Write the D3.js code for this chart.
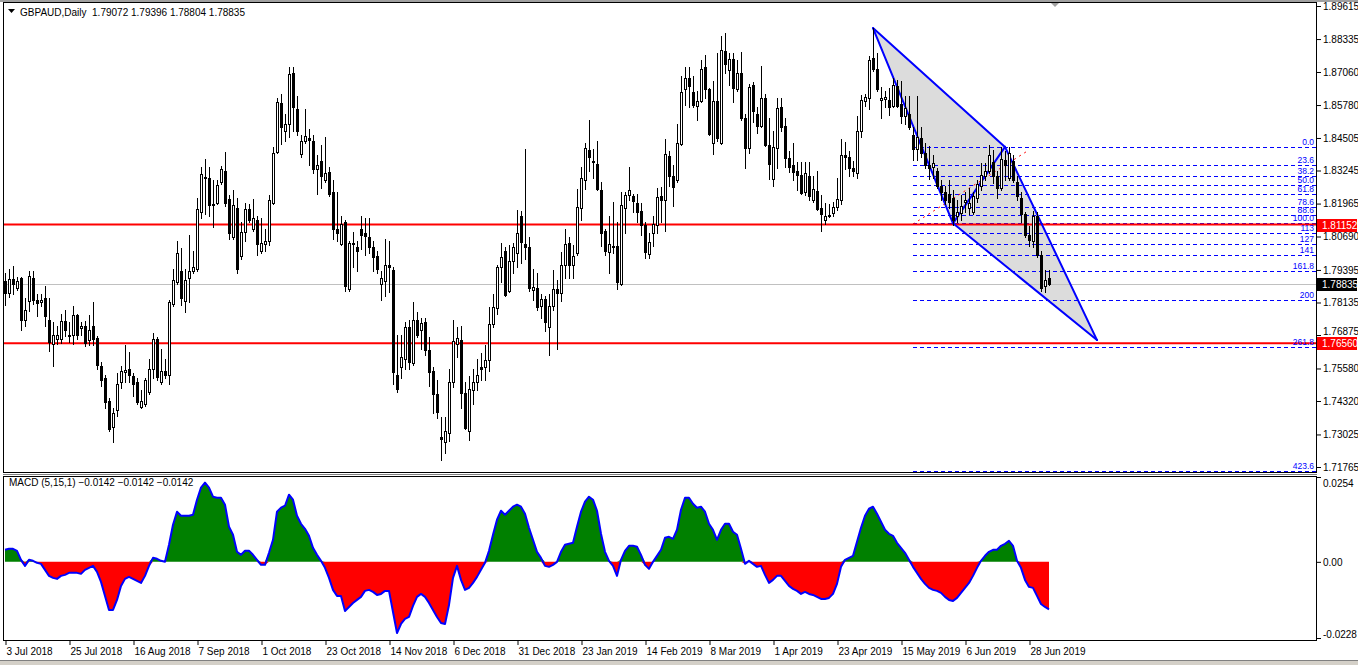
<!DOCTYPE html>
<html>
<head>
<meta charset="utf-8">
<script src="https://cdn.jsdelivr.net/npm/d3@7/dist/d3.min.js"></script>
<style>
html,body{margin:0;padding:0;background:#fff;}
svg{display:block;}
text{font-family:"Liberation Sans",Arial,sans-serif;font-size:10px;}
</style>
</head>
<body>
<svg id="chart" width="1358" height="665"></svg>
<script>
// ---------------- DATA ----------------
const symbolTitle = "GBPAUD,Daily";
const openP = [1.7897,1.7850,1.7904,1.7870,1.7908,1.7746,1.7819,1.7908,1.7823,1.7815,
1.7831,1.7746,1.7653,1.7672,1.7672,1.7742,1.7688,1.7688,1.7765,1.7715,
1.7722,1.7668,1.7722,1.7676,1.7568,1.7521,1.7432,1.7331,1.7397,1.7506,
1.7544,1.7556,1.7529,1.7506,1.7409,1.7420,1.7467,1.7556,1.7672,1.7506,
1.7548,1.7533,1.7808,1.7893,1.7935,1.7819,1.7908,1.7935,1.7943,1.8164,
1.8299,1.8295,1.8191,1.8199,1.8280,1.8323,1.8214,1.8067,1.8179,1.7993,
1.8086,1.8176,1.8098,1.8133,1.8013,1.8040,1.8052,1.8199,1.8396,1.8586,
1.8477,1.8505,1.8702,1.8563,1.8388,1.8439,1.8450,1.8439,1.8330,1.8361,
1.8288,1.8319,1.8241,1.8098,1.8040,1.8125,1.7866,1.8044,1.8028,1.8098,
1.8083,1.8067,1.8028,1.7993,1.7885,1.7897,1.7959,1.7939,1.7533,1.7564,
1.7595,1.7719,1.7579,1.7746,1.7707,1.7738,1.7630,1.7548,1.7459,1.7293,
1.7273,1.7308,1.7506,1.7653,1.7668,1.7463,1.7316,1.7475,1.7506,1.7564,
1.7564,1.7591,1.7730,1.7792,1.7951,1.8013,1.7858,1.7974,1.8005,1.8148,
1.8040,1.8028,1.7862,1.7870,1.7800,1.7827,1.7719,1.7800,1.7866,1.7850,
1.7959,1.8044,1.7959,1.8005,1.8179,1.8288,1.8404,1.8361,1.8350,1.8249,
1.8090,1.8009,1.8028,1.8032,1.7885,1.8179,1.8230,1.8226,1.8199,1.8168,
1.8113,1.8001,1.8083,1.8113,1.8226,1.8210,1.8381,1.8303,1.8288,1.8427,
1.8640,1.8683,1.8629,1.8574,1.8594,1.8725,1.8640,1.8431,1.8594,1.8431,
1.8787,1.8714,1.8756,1.8640,1.8702,1.8528,1.8412,1.8656,1.8543,1.8497,
1.8605,1.8423,1.8292,1.8412,1.8570,1.8497,1.8373,1.8346,1.8323,1.8307,
1.8241,1.8303,1.8210,1.8245,1.8179,1.8133,1.8148,1.8160,1.8183,1.8210,
1.8385,1.8377,1.8334,1.8315,1.8477,1.8594,1.8605,1.8760,1.8718,1.8598,
1.8601,1.8598,1.8574,1.8652,1.8582,1.8536,1.8543,1.8462,1.8408,1.8450,
1.8392,1.8346,1.8338,1.8323,1.8265,1.8241,1.8234,1.8218,1.8148,1.8160,
1.8203,1.8179,1.8164,1.8218,1.8265,1.8303,1.8323,1.8357,1.8303,1.8257,
1.8365,1.8295,1.8361,1.8280,1.8218,1.8156,1.8075,1.8052,1.8148,1.7997,
1.7877,1.79072];
const highP = [1.7928,1.7943,1.7955,1.7912,1.7912,1.7831,1.7935,1.7935,1.7846,1.7846,
1.7877,1.7831,1.7738,1.7722,1.7769,1.7784,1.7738,1.7800,1.7769,1.7738,
1.7742,1.7765,1.7815,1.7684,1.7583,1.7533,1.7444,1.7405,1.7540,1.7568,
1.7649,1.7622,1.7540,1.7521,1.7475,1.7521,1.7595,1.7695,1.7680,1.7633,
1.7595,1.7823,1.7943,1.8052,1.8024,1.7943,1.8075,1.8013,1.8218,1.8338,
1.8369,1.8338,1.8288,1.8288,1.8342,1.8396,1.8230,1.8249,1.8218,1.8125,
1.8199,1.8195,1.8214,1.8148,1.8141,1.8098,1.8230,1.8416,1.8605,1.8621,
1.8543,1.8725,1.8725,1.8613,1.8462,1.8563,1.8485,1.8462,1.8385,1.8423,
1.8454,1.8338,1.8288,1.8241,1.8148,1.8133,1.8052,1.8086,1.8052,1.8148,
1.8141,1.8141,1.8052,1.8013,1.7935,1.8059,1.8052,1.7951,1.7688,1.7688,
1.7738,1.7746,1.7815,1.7777,1.7753,1.7753,1.7680,1.7564,1.7513,1.7370,
1.7370,1.7556,1.7746,1.7719,1.7722,1.7506,1.7529,1.7556,1.7595,1.7618,
1.7649,1.7796,1.7846,1.7959,1.8044,1.8028,1.8036,1.8044,1.8172,1.8168,
1.8408,1.8067,1.7943,1.7928,1.7846,1.7839,1.7846,1.7939,1.7901,1.8009,
1.8098,1.8067,1.8036,1.8253,1.8338,1.8431,1.8520,1.8408,1.8439,1.8280,
1.8098,1.8148,1.8203,1.8125,1.8241,1.8241,1.8338,1.8234,1.8234,1.8199,
1.8125,1.8083,1.8148,1.8257,1.8261,1.8447,1.8400,1.8346,1.8505,1.8690,
1.8725,1.8725,1.8690,1.8632,1.8752,1.8772,1.8644,1.8671,1.8780,1.8845,
1.8857,1.8780,1.8780,1.8752,1.8783,1.8543,1.8659,1.8667,1.8570,1.8729,
1.8621,1.8528,1.8477,1.8605,1.8605,1.8528,1.8400,1.8431,1.8357,1.8357,
1.8357,1.8357,1.8303,1.8323,1.8230,1.8199,1.8195,1.8203,1.8295,1.8447,
1.8435,1.8400,1.8361,1.8536,1.8617,1.8621,1.8768,1.8876,1.8780,1.8648,
1.8632,1.8644,1.8683,1.8675,1.8671,1.8613,1.8613,1.8493,1.8613,1.8493,
1.8431,1.8419,1.8385,1.8334,1.8288,1.8265,1.8288,1.8249,1.8210,1.8230,
1.8241,1.8257,1.8241,1.8288,1.8354,1.8354,1.8423,1.8404,1.8323,1.8416,
1.8400,1.8416,1.8385,1.8303,1.8241,1.8164,1.8110,1.8168,1.8164,1.8013,
1.7939,1.79396];
const lowP = [1.7804,1.7835,1.7846,1.7862,1.7707,1.7722,1.7780,1.7808,1.7761,1.7800,
1.7722,1.7626,1.7568,1.7653,1.7657,1.7684,1.7661,1.7653,1.7672,1.7688,
1.7645,1.7649,1.7649,1.7556,1.7490,1.7405,1.7316,1.7273,1.7374,1.7482,
1.7506,1.7506,1.7451,1.7420,1.7405,1.7413,1.7459,1.7521,1.7513,1.7498,
1.7521,1.7498,1.7800,1.7885,1.7804,1.7777,1.7815,1.7928,1.7935,1.8141,
1.8156,1.8148,1.8106,1.8195,1.8272,1.8187,1.8059,1.8059,1.7928,1.7982,
1.8052,1.8125,1.8090,1.7997,1.8005,1.8013,1.8036,1.8195,1.8392,1.8427,
1.8439,1.8454,1.8477,1.8462,1.8377,1.8431,1.8346,1.8315,1.8234,1.8257,
1.8280,1.8226,1.8059,1.8052,1.8036,1.7858,1.7858,1.7951,1.7935,1.8021,
1.7997,1.8005,1.7935,1.7928,1.7823,1.7839,1.7854,1.7498,1.7467,1.7521,
1.7556,1.7556,1.7571,1.7680,1.7633,1.7610,1.7490,1.7386,1.7366,1.7204,
1.7231,1.7277,1.7486,1.7602,1.7405,1.7324,1.7281,1.7420,1.7475,1.7513,
1.7513,1.7548,1.7719,1.7769,1.7893,1.7839,1.7854,1.7928,1.7951,1.7966,
1.7982,1.7858,1.7823,1.7784,1.7753,1.7703,1.7610,1.7784,1.7633,1.7819,
1.7908,1.7908,1.7908,1.7997,1.8133,1.8253,1.8323,1.8295,1.8249,1.8032,
1.7997,1.7928,1.8005,1.7866,1.7881,1.8083,1.8210,1.8164,1.8125,1.8075,
1.7986,1.7986,1.8032,1.8083,1.8125,1.8090,1.8265,1.8187,1.8280,1.8423,
1.8578,1.8570,1.8570,1.8520,1.8590,1.8605,1.8462,1.8388,1.8439,1.8427,
1.8702,1.8656,1.8590,1.8632,1.8520,1.8334,1.8392,1.8512,1.8470,1.8493,
1.8419,1.8292,1.8265,1.8334,1.8477,1.8338,1.8319,1.8288,1.8249,1.8234,
1.8230,1.8210,1.8203,1.8172,1.8090,1.8117,1.8145,1.8148,1.8172,1.8195,
1.8330,1.8303,1.8303,1.8295,1.8454,1.8574,1.8563,1.8710,1.8632,1.8528,
1.8570,1.8539,1.8570,1.8570,1.8508,1.8505,1.8485,1.8365,1.8365,1.8377,
1.8334,1.8292,1.8295,1.8257,1.8210,1.8195,1.8179,1.8113,1.8125,1.8133,
1.8164,1.8156,1.8156,1.8203,1.8249,1.8288,1.8315,1.8276,1.8218,1.8249,
1.8288,1.8288,1.8280,1.8210,1.8125,1.8067,1.8032,1.8028,1.7990,1.7858,
1.7854,1.78804];
const closeP = [1.7850,1.7904,1.7885,1.7897,1.7746,1.7784,1.7916,1.7823,1.7812,1.7823,
1.7761,1.7661,1.7688,1.7688,1.7742,1.7707,1.7684,1.7765,1.7688,1.7722,
1.7657,1.7707,1.7672,1.7571,1.7513,1.7428,1.7324,1.7386,1.7498,1.7548,
1.7552,1.7533,1.7498,1.7428,1.7432,1.7513,1.7556,1.7672,1.7525,1.7548,
1.7533,1.7815,1.7901,1.8005,1.7831,1.7901,1.7935,1.7951,1.8176,1.8311,
1.8295,1.8191,1.8195,1.8268,1.8330,1.8199,1.8083,1.8191,1.7943,1.8086,
1.8176,1.8133,1.8141,1.8040,1.8044,1.8052,1.8210,1.8392,1.8590,1.8493,
1.8505,1.8698,1.8570,1.8477,1.8439,1.8458,1.8443,1.8330,1.8346,1.8303,
1.8315,1.8234,1.8098,1.8083,1.8117,1.7877,1.8044,1.8040,1.8013,1.8075,
1.8071,1.8028,1.7990,1.7943,1.7908,1.7959,1.7951,1.7544,1.7479,1.7602,
1.7719,1.7583,1.7746,1.7688,1.7734,1.7630,1.7544,1.7459,1.7389,1.7285,
1.7316,1.7506,1.7664,1.7676,1.7463,1.7327,1.7479,1.7506,1.7533,1.7556,
1.7591,1.7730,1.7796,1.7951,1.7990,1.7842,1.7974,1.8028,1.8083,1.8048,
1.8028,1.7870,1.7873,1.7796,1.7827,1.7738,1.7800,1.7866,1.7850,1.7959,
1.8040,1.7959,1.7993,1.8183,1.8295,1.8412,1.8377,1.8357,1.8253,1.8083,
1.8013,1.8040,1.8032,1.7893,1.8191,1.8230,1.8249,1.8206,1.8164,1.8113,
1.8009,1.8048,1.8117,1.8222,1.8210,1.8388,1.8303,1.8261,1.8431,1.8629,
1.8683,1.8652,1.8578,1.8594,1.8718,1.8640,1.8466,1.8594,1.8450,1.8791,
1.8737,1.8756,1.8644,1.8702,1.8528,1.8412,1.8648,1.8555,1.8497,1.8605,
1.8423,1.8350,1.8416,1.8567,1.8493,1.8373,1.8338,1.8319,1.8307,1.8237,
1.8315,1.8226,1.8253,1.8176,1.8156,1.8148,1.8152,1.8183,1.8214,1.8385,
1.8377,1.8334,1.8323,1.8477,1.8598,1.8609,1.8752,1.8718,1.8640,1.8605,
1.8609,1.8570,1.8656,1.8574,1.8536,1.8567,1.8493,1.8408,1.8454,1.8392,
1.8346,1.8334,1.8354,1.8265,1.8241,1.8210,1.8203,1.8133,1.8164,1.8187,
1.8210,1.8199,1.8226,1.8272,1.8307,1.8323,1.8385,1.8303,1.8257,1.8369,
1.8346,1.8392,1.8288,1.8226,1.8156,1.8075,1.8055,1.8148,1.7997,1.7870,
1.7901,1.78835];
const macdVals = [0.0036,0.0039,0.0039,0.0033,0.0006,-0.0012,0.0006,0.0003,-0.0003,-0.0006,-0.0024,-0.0042,-0.0048,-0.0051,-0.0042,-0.0039,-0.0033,-0.0033,-0.0033,-0.0036,-0.0024,-0.0018,
-0.0012,-0.0030,-0.0060,-0.0102,-0.0144,-0.0144,-0.0114,-0.0072,-0.0051,-0.0045,-0.0051,-0.0057,-0.0063,-0.0042,-0.0012,0.0012,0.0009,0.0003,0.0000,0.0051,0.0111,0.0150,
0.0138,0.0138,0.0138,0.0141,0.0186,0.0222,0.0237,0.0222,0.0195,0.0192,0.0192,0.0171,0.0105,0.0081,0.0030,0.0021,0.0033,0.0033,0.0021,0.0006,-0.0009,-0.0009,0.0027,
0.0066,0.0150,0.0162,0.0168,0.0201,0.0186,0.0138,0.0114,0.0099,0.0078,0.0042,0.0021,0.0003,-0.0018,-0.0048,-0.0084,-0.0102,-0.0102,-0.0147,-0.0135,-0.0123,-0.0114,
-0.0105,-0.0087,-0.0084,-0.0090,-0.0099,-0.0096,-0.0087,-0.0087,-0.0150,-0.0213,-0.0186,-0.0171,-0.0165,-0.0132,-0.0105,-0.0096,-0.0105,-0.0123,-0.0144,-0.0165,-0.0183,-0.0186,-0.0129,
-0.0048,-0.0012,-0.0054,-0.0084,-0.0078,-0.0063,-0.0045,-0.0024,-0.0003,0.0033,0.0081,0.0126,0.0153,0.0141,0.0153,0.0165,0.0171,0.0165,0.0144,0.0102,0.0066,0.0030,
0.0012,-0.0012,-0.0015,-0.0009,0.0000,0.0030,0.0051,0.0054,0.0057,0.0105,0.0150,0.0180,0.0195,0.0186,0.0153,0.0084,0.0030,0.0003,-0.0012,-0.0042,0.0006,0.0033,0.0048,
0.0048,0.0045,0.0021,-0.0009,-0.0021,0.0000,0.0018,0.0036,0.0072,0.0075,0.0069,0.0096,0.0156,0.0192,0.0192,0.0174,0.0162,0.0165,0.0150,0.0114,0.0096,0.0066,
0.0096,0.0114,0.0114,0.0090,0.0081,0.0039,-0.0006,0.0003,-0.0006,-0.0015,-0.0012,-0.0039,-0.0063,-0.0054,-0.0042,-0.0042,-0.0057,-0.0072,-0.0081,-0.0087,-0.0096,-0.0090,-0.0096,
-0.0099,-0.0105,-0.0111,-0.0111,-0.0108,-0.0096,-0.0066,-0.0015,0.0006,0.0012,0.0018,0.0060,0.0102,0.0138,0.0159,0.0165,0.0144,0.0120,0.0096,0.0084,0.0078,0.0057,
0.0042,0.0027,0.0006,-0.0015,-0.0033,-0.0051,-0.0066,-0.0078,-0.0084,-0.0087,-0.0093,-0.0105,-0.0114,-0.0117,-0.0108,-0.0093,-0.0078,-0.0063,-0.0042,-0.0018,0.0003,0.0018,0.0030,
0.0036,0.0036,0.0048,0.0054,0.0063,0.0048,0.0003,-0.0018,-0.0054,-0.0075,-0.0078,-0.0102,-0.0126,-0.0135,-0.0142];

const dateLabels = ["3 Jul 2018","25 Jul 2018","16 Aug 2018","7 Sep 2018","1 Oct 2018","23 Oct 2018","14 Nov 2018","6 Dec 2018","31 Dec 2018","23 Jan 2019","14 Feb 2019","8 Mar 2019","1 Apr 2019","23 Apr 2019","15 May 2019","6 Jun 2019","28 Jun 2019"];
const dateTickBars = [0,16,32,48,64,80,96,112,128,144,160,176,192,208,224,240,256];
const priceTicks = [1.89615,1.88335,1.87060,1.85780,1.84505,1.83245,1.81965,1.80690,1.79395,1.78135,1.76875,1.75580,1.74320,1.73025,1.71765];
const macdTicks = [0.0254,0,-0.0228];
const macdTickLabels = ["0.0254","0.00","-0.0228"];
const fibLevels = [0,23.6,38.2,50,61.8,78.6,88.6,100,113,127,141,161.8,200,261.8,423.6];
const fibLabels = ["0.0","23.6","38.2","50.0","61.8","78.6","88.6","100.0","113","127","141","161.8","200","261.8","423.6"];
const fibAnchor = {startBar:227, p0:1.8416, p100:1.8120};
const redLevels = [1.81152, 1.76560];
// harmonic pattern pivots: [bar index, price]
const patternX = [217,1.8876], patternA = [237,1.8120], patternB = [250,1.8416], patternC = [273,1.7668];
const redTrend = [[227,1.8117],[256,1.8404]];

// ---------------- LAYOUT ----------------
const W=1358, H=665;
const pL=3, pR=1316, mT=2, mB=472, dT=476, dB=640;
const svg=d3.select("#chart");
const f5=d3.format(".5f"), f4=d3.format(".4f");
const n=closeP.length;

const x=d3.scaleLinear().domain([0,261]).range([5,1049]);
const y=d3.scaleLinear().domain([1.71765,1.89615]).range([467,6]);
const my=d3.scaleLinear().domain([-0.0228,0.0254]).range([638,477]);

svg.append("rect").attr("width",W).attr("height",H).attr("fill","#fff");
const defs=svg.append("defs");
defs.append("clipPath").attr("id","clipMain").append("rect").attr("x",pL+1).attr("y",mT+1).attr("width",pR-pL-1).attr("height",mB-mT-1);
defs.append("clipPath").attr("id","clipMacd").append("rect").attr("x",pL+1).attr("y",dT+1).attr("width",pR-pL-1).attr("height",dB-dT-1);

// window chrome
svg.append("rect").attr("x",0).attr("y",0).attr("width",W).attr("height",2).attr("fill","#a0a0a0");
svg.append("rect").attr("x",0).attr("y",661).attr("width",W).attr("height",4).attr("fill","#d4d0c8");
svg.append("line").attr("x1",0).attr("x2",W).attr("y1",660.5).attr("y2",660.5).attr("stroke","#808080");

const main=svg.append("g").attr("clip-path","url(#clipMain)");

// triangles
const P=p=>[x(p[0]),y(p[1])];
main.append("polygon").attr("points",[patternX,patternA,patternB].map(P).join(" ")).attr("fill","#dcdcdc");
main.append("polygon").attr("points",[patternA,patternB,patternC].map(P).join(" ")).attr("fill","#dcdcdc");

// fib lines
const fibPrice=r=>fibAnchor.p0+(fibAnchor.p100-fibAnchor.p0)*r/100;
main.selectAll("line.fib").data(fibLevels).join("line").attr("class","fib")
  .attr("x1",x(fibAnchor.startBar)).attr("x2",pR)
  .attr("y1",d=>Math.round(y(fibPrice(d)))+0.5).attr("y2",d=>Math.round(y(fibPrice(d)))+0.5)
  .attr("stroke","#0000ff").attr("stroke-width",1).attr("stroke-dasharray","4,3");

// horizontal red lines
main.selectAll("line.red").data(redLevels).join("line").attr("class","red")
  .attr("x1",pL).attr("x2",pR).attr("y1",d=>y(d)).attr("y2",d=>y(d))
  .attr("stroke","#ff0000").attr("stroke-width",2);
// bid line
const lastC=closeP[n-1];
main.append("line").attr("x1",pL).attr("x2",pR).attr("y1",Math.round(y(lastC))+0.5).attr("y2",Math.round(y(lastC))+0.5)
  .attr("stroke","#c0c0c0").attr("stroke-width",1);
// red dotted trend
main.append("line").attr("x1",x(redTrend[0][0])).attr("y1",y(redTrend[0][1])).attr("x2",x(redTrend[1][0])).attr("y2",y(redTrend[1][1]))
  .attr("stroke","#ff0000").attr("stroke-width",1).attr("stroke-dasharray","2,4");
// pattern outlines
[[patternX,patternB],[patternX,patternA],[patternA,patternB],[patternA,patternC],[patternB,patternC]].forEach(s=>{
  main.append("line").attr("x1",x(s[0][0])).attr("y1",y(s[0][1])).attr("x2",x(s[1][0])).attr("y2",y(s[1][1]))
    .attr("stroke","#0000ff").attr("stroke-width",2).attr("stroke-linecap","round");
});

// candles
const idx=d3.range(n);
const cg=main.append("g");
cg.selectAll("line.wick").data(idx).join("line").attr("class","wick")
  .attr("x1",i=>Math.round(x(i))+0.5).attr("x2",i=>Math.round(x(i))+0.5)
  .attr("y1",i=>Math.round(y(highP[i]))).attr("y2",i=>Math.round(y(lowP[i]))+1)
  .attr("stroke","#000").attr("stroke-width",1);
const bull=idx.filter(i=>closeP[i]>openP[i]), bear=idx.filter(i=>closeP[i]<=openP[i]);
cg.selectAll("rect.bull").data(bull).join("rect").attr("class","bull")
  .attr("x",i=>Math.round(x(i))-0.5)
  .attr("y",i=>Math.round(y(closeP[i]))+0.5)
  .attr("width",2)
  .attr("height",i=>Math.max(1,Math.round(y(openP[i]))-Math.round(y(closeP[i]))))
  .attr("fill","#fff").attr("stroke","#000").attr("stroke-width",1);
cg.selectAll("rect.bear").data(bear).join("rect").attr("class","bear")
  .attr("x",i=>Math.round(x(i))-1)
  .attr("y",i=>Math.round(y(openP[i])))
  .attr("width",3)
  .attr("height",i=>Math.max(1,Math.round(y(closeP[i]))-Math.round(y(openP[i]))+1))
  .attr("fill","#000");

// fib labels
main.selectAll("text.fibl").data(fibLevels).join("text").attr("class","fibl")
  .attr("x",pR-2).attr("y",d=>Math.round(y(fibPrice(d)))-2)
  .attr("text-anchor","end").attr("fill","#0000ff").style("font-size","8.5px")
  .text((d,i)=>fibLabels[i]);

// MACD panel
const mg=svg.append("g").attr("clip-path","url(#clipMacd)");
mg.append("path").datum(macdVals).attr("fill","#008000")
  .attr("d",d3.area().x((d,i)=>x(i)).y0(my(0)).y1(d=>my(Math.max(d,0))));
mg.append("path").datum(macdVals).attr("fill","#ff0000")
  .attr("d",d3.area().x((d,i)=>x(i)).y0(my(0)).y1(d=>my(Math.min(d,0))));
mg.append("path").datum(macdVals).attr("fill","none").attr("stroke","#0000ff").attr("stroke-width",2)
  .attr("stroke-linejoin","round").attr("d",d3.line().x((d,i)=>x(i)).y(d=>my(d)));

// panel frames
svg.append("rect").attr("x",pL+0.5).attr("y",mT+0.5).attr("width",pR-pL).attr("height",mB-mT).attr("fill","none").attr("stroke","#000");
svg.append("rect").attr("x",pL+0.5).attr("y",dT+0.5).attr("width",pR-pL).attr("height",dB-dT).attr("fill","none").attr("stroke","#000");
svg.append("line").attr("x1",pL).attr("x2",pR+1).attr("y1",mB+2.5).attr("y2",mB+2.5).attr("stroke","#808080");

// price axis
const pa=svg.append("g").attr("transform",`translate(${pR+1},0)`)
  .call(d3.axisRight(y).tickValues(priceTicks).tickFormat(f5).tickSize(4).tickPadding(2));
pa.select(".domain").remove();
pa.selectAll("text").attr("font-family",null).attr("font-size",null).attr("fill","#000");
pa.selectAll("line").attr("stroke","#000");
// tick label hidden under the red box in the reference sits just above it
pa.selectAll(".tick").filter(d=>d===1.76875).select("text").attr("dy","-0.05em");

// MACD axis
const ma=svg.append("g").attr("transform",`translate(${pR+1},0)`)
  .call(d3.axisRight(my).tickValues(macdTicks).tickFormat((d,i)=>macdTickLabels[i]).tickSize(4).tickPadding(2));
ma.select(".domain").remove();
ma.selectAll("text").attr("font-family",null).attr("font-size",null).attr("fill","#000");
ma.selectAll(".tick").filter(d=>d===0.0254).select("text").attr("dy","0.9em");
ma.selectAll(".tick").filter(d=>d===-0.0228).select("text").attr("dy","-0.1em");
ma.selectAll("line").attr("stroke","#000");

// price label boxes
const boxes=[{p:redLevels[0],c:"#ff0000"},{p:lastC,c:"#000"},{p:redLevels[1],c:"#ff0000"}];
boxes.forEach(b=>{
  const yy=Math.round(y(b.p));
  svg.append("rect").attr("x",pR+1).attr("y",yy-6).attr("width",W-pR-2).attr("height",13).attr("fill",b.c);
  svg.append("text").attr("x",pR+6).attr("y",yy+4).attr("fill","#fff").text(f5(b.p));
});

// date axis
const da=svg.append("g").attr("transform",`translate(0,${dB+1})`)
  .call(d3.axisBottom(x).tickValues(dateTickBars).tickFormat((d,i)=>dateLabels[i]).tickSize(4).tickPadding(3));
da.select(".domain").remove();
da.selectAll("text").attr("font-family",null).attr("font-size",null).attr("text-anchor","start").attr("x",1).attr("fill","#000");
da.selectAll("line").attr("stroke","#000").attr("transform","translate(0.5,0)");

// header
svg.append("polygon").attr("points","8,9 15,9 11.5,13").attr("fill","#000");
svg.append("text").attr("x",20).attr("y",16).style("white-space","pre")
  .text(`${symbolTitle}  ${f5(openP[n-1])} ${f5(highP[n-1])} ${f5(lowP[n-1])} ${f5(closeP[n-1])}`);
svg.append("text").attr("x",9).attr("y",486).style("white-space","pre")
  .text(`MACD (5,15,1) ${f4(macdVals[n-1])} ${f4(macdVals[n-1])} ${f4(macdVals[n-1])}`);
// chart-shift marker
svg.append("polygon").attr("points",`${x(n-1)+2},3 ${x(n-1)+10},3 ${x(n-1)+6},7`).attr("fill","#a0a0a0");
</script>
</body>
</html>
